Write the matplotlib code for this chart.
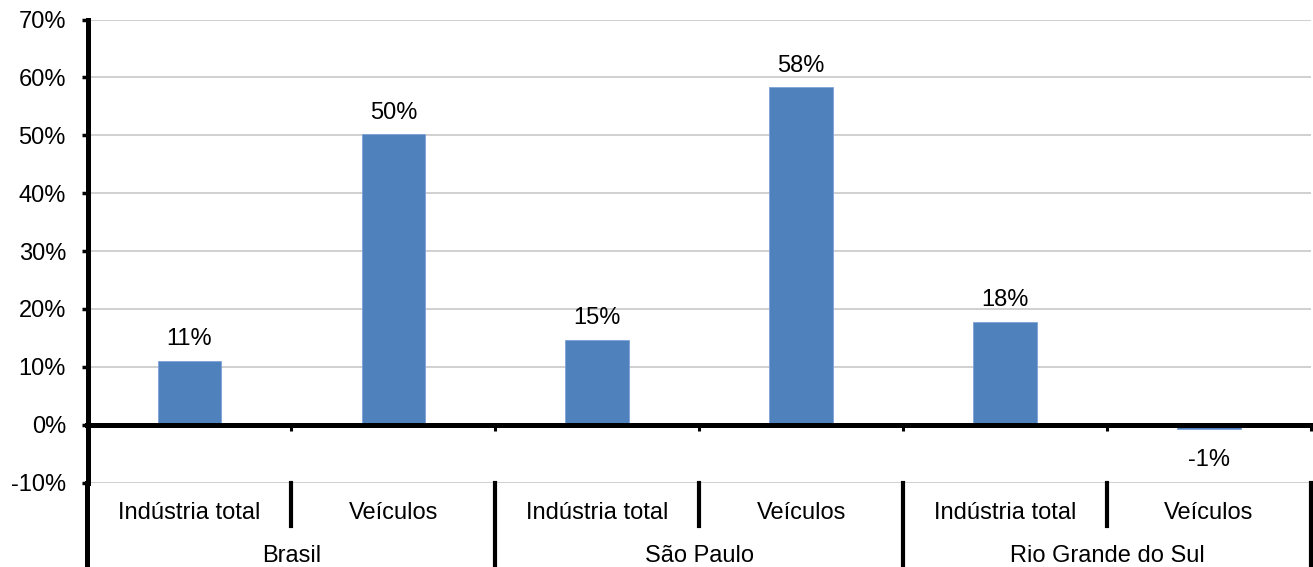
import matplotlib
matplotlib.use("Agg")
import matplotlib.pyplot as plt
from matplotlib.transforms import blended_transform_factory
from matplotlib.lines import Line2D

plt.rcParams['font.family'] = ['Liberation Sans', 'DejaVu Sans']

groups = ["Brasil", "São Paulo", "Rio Grande do Sul"]
subcats = ["Indústria total", "Veículos"]
values = [11.0, 50.2, 14.7, 58.3, 17.8, -0.8]
labels = ["11%", "50%", "15%", "58%", "18%", "-1%"]
yticks = [-10, 0, 10, 20, 30, 40, 50, 60, 70]

FS = 17
fig = plt.figure(figsize=(13.13, 5.67), dpi=100)
ax = fig.add_axes([87.5/1313, 1-482.5/567, (1311-87.5)/1313, (482.5-19.6)/567])

x = list(range(len(values)))
ax.bar(x, values, width=0.312, color='#4F81BD', edgecolor='#7FA3D6', linewidth=0.6, zorder=3)

ax.set_xlim(-0.5, len(values)-0.5)
ax.set_ylim(-10, 70)
ax.set_yticks(yticks)
ax.set_yticklabels([f"{v}%" for v in yticks], fontsize=FS)
ax.yaxis.grid(True, color='#C8C8C8', linewidth=1.2, zorder=0)
ax.set_axisbelow(True)

for s in ['top', 'right']:
    ax.spines[s].set_visible(False)
ax.spines['left'].set_linewidth(3.6)
ax.spines['bottom'].set_position(('data', 0))
ax.spines['bottom'].set_linewidth(3.6)
ax.spines['bottom'].set_zorder(4)

ax.set_xticks([i + 0.5 for i in range(-1, len(values))])
ax.set_xticklabels([])
ax.tick_params(axis='x', direction='out', length=4, width=2.2, color='black')
ax.tick_params(axis='y', direction='out', length=4.5, width=2.5, pad=11, color='black')

for xi, v, lab in zip(x, values, labels):
    if v >= 0:
        ax.annotate(lab, (xi, v), xytext=(0, 11.2), textcoords='offset points',
                    ha='center', va='baseline', fontsize=FS)
    else:
        ax.annotate(lab, (xi, v), xytext=(0, -26.5), textcoords='offset points',
                    ha='center', va='baseline', fontsize=FS)

tr = blended_transform_factory(ax.transData, ax.transAxes)
# subcategory labels
for i in range(len(values)):
    ax.text(i, -0.0789, subcats[i % 2], transform=tr, ha='center', va='baseline', fontsize=FS)
# group labels
for g, name in enumerate(groups):
    ax.text(2*g + 0.5, -0.1717, name, transform=tr, ha='center', va='baseline', fontsize=FS)
# subcategory separators
for g in range(len(groups)):
    xs = 2*g + 0.5
    ax.add_line(Line2D([xs, xs], [0, -0.094], transform=tr, color='black', lw=3, clip_on=False))
# group separators
for g in range(len(groups) + 1):
    xs = 2*g - 0.5
    lw = 3.6 if g == 0 else 3
    ax.add_line(Line2D([xs, xs], [0, -0.25], transform=tr, color='black', lw=lw, clip_on=False))

fig.savefig("out.png", dpi=100)
